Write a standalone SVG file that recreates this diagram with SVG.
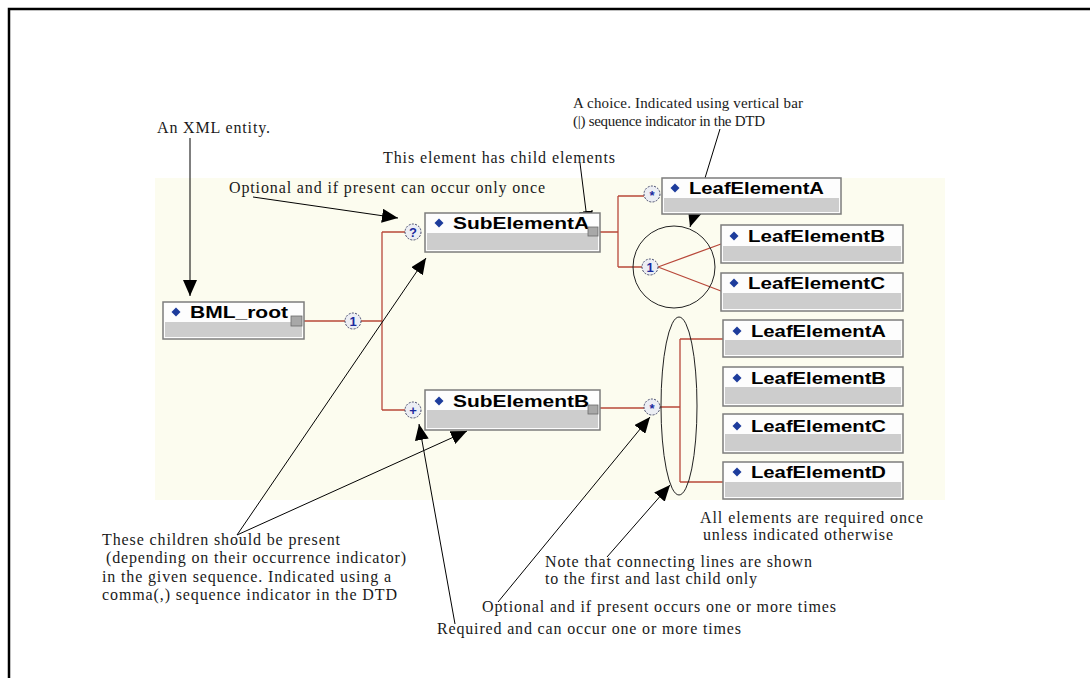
<svg xmlns="http://www.w3.org/2000/svg" width="1090" height="678" viewBox="0 0 1090 678">
<style>
.note{font-family:"Liberation Serif","Times New Roman",serif;font-size:16px;fill:#1a1a1a}
.sm{font-size:15px}
.nt{font-family:"Liberation Sans",Arial,sans-serif;font-weight:bold;font-size:17px;fill:#000}
.box{fill:#fdfdfd;stroke:#7c7c7c;stroke-width:1.5}
.bar{fill:#cdcdcd}
.dia{fill:#1d3c9c}
.ic{fill:#a8a8a8;stroke:#6a6a6a;stroke-width:0.8}
.red{fill:none;stroke:#b8483a;stroke-width:1.3}
.occ{fill:#eceef4;stroke:#44486a;stroke-width:1;stroke-dasharray:2 1.3}
.os{font-family:"Liberation Sans",Arial,sans-serif;font-weight:bold;font-size:13px;fill:#1b2a9e;text-anchor:middle}
.arr{fill:none;stroke:#000;stroke-width:1;marker-end:url(#ah)}
.ring{fill:none;stroke:#222;stroke-width:1}
</style>
<defs>
<marker id="ah" viewBox="0 0 16 14" refX="16" refY="7" markerWidth="16" markerHeight="14" markerUnits="userSpaceOnUse" orient="auto">
<path d="M0,0 L16,7 L0,14 Z" fill="#000"/>
</marker>
</defs>
<rect width="1090" height="678" fill="#fff"/>
<path d="M9,678 V9 H1090" fill="none" stroke="#000" stroke-width="2.5"/>
<rect x="155" y="178" width="790" height="322" fill="#fcfcef"/>

<g id="connectors">
<path class="red" d="M304,321 H345 M361,321 H382 M382,232 V410 M382,232 H405 M382,410 H405"/>
<path class="red" d="M600,232 H618 M618,196 V267 M618,196 H644 M618,267 H642 M658,267 L721,244 M658,267 L721,291"/>
<path class="red" d="M600,408 H644 M660,407 H680 M680,339 V482 M680,339 H723 M680,482 H723"/>
<circle class="occ" cx="353" cy="321" r="8"/><text class="os" x="353" y="326">1</text>
<circle class="occ" cx="413" cy="232" r="8"/><text class="os" x="413" y="237">?</text>
<circle class="occ" cx="413" cy="410" r="8"/><text class="os" x="413" y="415">+</text>
<circle class="occ" cx="652" cy="194" r="8"/><text class="os" x="652" y="199.5">*</text>
<circle class="occ" cx="650" cy="267" r="8"/><text class="os" x="650" y="272">1</text>
<circle class="occ" cx="652" cy="407" r="8"/><text class="os" x="652" y="412.5">*</text>
<circle class="ring" cx="674" cy="267" r="41"/>
<ellipse class="ring" cx="679" cy="406" rx="18" ry="89"/>
<path class="arr" d="M190,138 V296" stroke-width="1.6"/>
<path class="arr" d="M253,197 L398,218"/>
<path class="arr" d="M580,163 L588,227"/>
<path class="arr" d="M720,129 L690,227"/>
<path class="arr" d="M237,535 L426,258"/>
<path class="arr" d="M237,535 L467,431"/>
<path class="arr" d="M455,624 L419,424"/>
<path class="arr" d="M498,602 L650,417"/>
<path class="arr" d="M607,557 L670,485"/>
</g>

<g id="BML_root">
<rect class="box" x="163" y="302" width="141" height="37"/>
<rect class="bar" x="165" y="322" width="137" height="15"/>
<path class="dia" d="M176,307.5 L180.5,312 L176,316.5 L171.5,312 Z"/>
<text class="nt" x="190" y="318" textLength="98" lengthAdjust="spacingAndGlyphs">BML_root</text>
<rect class="ic" x="291" y="316" width="11" height="10"/>
</g>
<g id="SubElementA">
<rect class="box" x="425" y="213" width="175" height="39"/>
<rect class="bar" x="427" y="233" width="171" height="17"/>
<path class="dia" d="M439,218.5 L443.5,223 L439,227.5 L434.5,223 Z"/>
<text class="nt" x="453" y="229" textLength="136" lengthAdjust="spacingAndGlyphs">SubElementA</text>
<rect class="ic" x="588" y="227" width="10" height="9"/>
</g>
<g id="SubElementB">
<rect class="box" x="425" y="390" width="175" height="40"/>
<rect class="bar" x="427" y="410" width="171" height="18"/>
<path class="dia" d="M439,396.5 L443.5,401 L439,405.5 L434.5,401 Z"/>
<text class="nt" x="453" y="407" textLength="136" lengthAdjust="spacingAndGlyphs">SubElementB</text>
<rect class="ic" x="588" y="405" width="10" height="9"/>
</g>
<g id="LeafElementA1">
<rect class="box" x="662" y="178" width="179" height="36"/>
<rect class="bar" x="664" y="198" width="175" height="14"/>
<path class="dia" d="M675,183.5 L679.5,188 L675,192.5 L670.5,188 Z"/>
<text class="nt" x="689" y="194" textLength="135" lengthAdjust="spacingAndGlyphs">LeafElementA</text>
</g>
<g id="LeafElementB1">
<rect class="box" x="721" y="225" width="182" height="38"/>
<rect class="bar" x="723" y="246" width="178" height="15"/>
<path class="dia" d="M734,231.5 L738.5,236 L734,240.5 L729.5,236 Z"/>
<text class="nt" x="748" y="242" textLength="137" lengthAdjust="spacingAndGlyphs">LeafElementB</text>
</g>
<g id="LeafElementC1">
<rect class="box" x="721" y="273" width="182" height="38"/>
<rect class="bar" x="723" y="293" width="178" height="16"/>
<path class="dia" d="M734,278.5 L738.5,283 L734,287.5 L729.5,283 Z"/>
<text class="nt" x="748" y="289" textLength="137" lengthAdjust="spacingAndGlyphs">LeafElementC</text>
</g>
<g id="LeafElementA2">
<rect class="box" x="723" y="320" width="180" height="37"/>
<rect class="bar" x="725" y="340" width="176" height="15"/>
<path class="dia" d="M737,326.5 L741.5,331 L737,335.5 L732.5,331 Z"/>
<text class="nt" x="751" y="337" textLength="135" lengthAdjust="spacingAndGlyphs">LeafElementA</text>
</g>
<g id="LeafElementB2">
<rect class="box" x="723" y="367" width="180" height="39"/>
<rect class="bar" x="725" y="387" width="176" height="17"/>
<path class="dia" d="M737,373.5 L741.5,378 L737,382.5 L732.5,378 Z"/>
<text class="nt" x="751" y="384" textLength="135" lengthAdjust="spacingAndGlyphs">LeafElementB</text>
</g>
<g id="LeafElementC2">
<rect class="box" x="723" y="414" width="180" height="39"/>
<rect class="bar" x="725" y="434" width="176" height="17"/>
<path class="dia" d="M737,421.5 L741.5,426 L737,430.5 L732.5,426 Z"/>
<text class="nt" x="751" y="432" textLength="135" lengthAdjust="spacingAndGlyphs">LeafElementC</text>
</g>
<g id="LeafElementD2">
<rect class="box" x="723" y="462" width="180" height="37"/>
<rect class="bar" x="725" y="482" width="176" height="15"/>
<path class="dia" d="M737,467.5 L741.5,472 L737,476.5 L732.5,472 Z"/>
<text class="nt" x="751" y="478" textLength="135" lengthAdjust="spacingAndGlyphs">LeafElementD</text>
</g>

<g id="notes">
<text class="note" x="157" y="133" textLength="113">An XML entity.</text>
<text class="note" x="383" y="163" textLength="232">This element has child elements</text>
<text class="note sm" x="573" y="108" textLength="230">A choice. Indicated using vertical bar</text>
<text class="note sm" x="573" y="126" textLength="192">(|) sequence indicator in the DTD</text>
<text class="note" x="229" y="193" textLength="316">Optional and if present can occur only once</text>
<text class="note" x="102" y="545" textLength="238">These children should be present</text>
<text class="note" x="106" y="563" textLength="300">(depending on their occurrence indicator)</text>
<text class="note" x="102" y="582" textLength="289">in the given sequence. Indicated using a</text>
<text class="note" x="102" y="600" textLength="295">comma(,) sequence indicator in the DTD</text>
<text class="note" x="437" y="634" textLength="304">Required and can occur one or more times</text>
<text class="note" x="482" y="612" textLength="354">Optional and if present occurs one or more times</text>
<text class="note" x="545" y="567" textLength="267">Note that connecting lines are shown</text>
<text class="note" x="545" y="584" textLength="212">to the first and last child only</text>
<text class="note" x="700" y="523" textLength="223">All elements are required once</text>
<text class="note" x="703" y="540" textLength="190">unless indicated otherwise</text>
</g>
</svg>
